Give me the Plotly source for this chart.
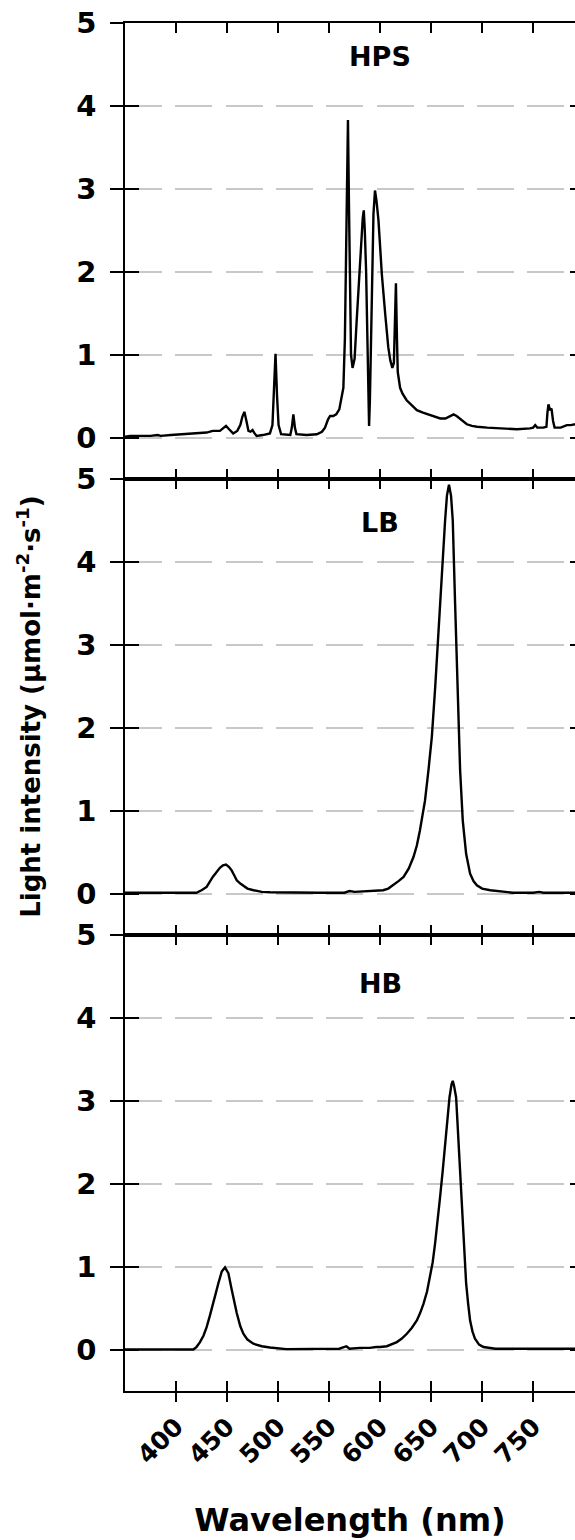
import plotly.graph_objects as go

# ---------------- data ----------------
hps_wl = [350, 355, 365, 375, 382, 385, 395, 410, 420, 430, 436, 443, 446, 449, 452, 456, 460, 463, 465, 467,
          469, 471, 473, 475, 477, 479, 485, 492, 494.5, 496, 497.5, 499, 500.5, 503, 508, 512, 513.5, 515,
          516.5, 518, 528, 538, 543, 546, 549, 551, 554, 557, 560, 562, 564, 565.5, 566.5, 567.5, 568.5,
          569.5, 570.5, 571.5, 573, 575, 577, 579, 581, 583, 584, 585, 586.3, 587.6, 588.5, 589.2, 590,
          590.9, 591.8, 592.5, 593.5, 595, 596.5, 598.4, 600, 601.7, 605, 608, 610, 612, 613.5, 614.5,
          615.5, 616.5, 617.3, 619.6, 622, 626, 630, 636, 642, 649, 655, 659, 664, 668, 672, 675, 678,
          682, 685, 690, 695, 705, 718, 734, 747, 750, 752, 754, 760, 763, 764, 765, 766.5, 768, 769.5,
          771, 777, 783, 787, 791]
hps_val = [0.01, 0.02, 0.02, 0.02, 0.03, 0.02, 0.03, 0.04, 0.05, 0.06, 0.08, 0.08, 0.11, 0.14, 0.10, 0.05,
           0.08, 0.15, 0.25, 0.31, 0.20, 0.08, 0.07, 0.09, 0.05, 0.02, 0.03, 0.05, 0.15, 0.50, 1.01, 0.50,
           0.15, 0.04, 0.03, 0.03, 0.12, 0.28, 0.12, 0.04, 0.03, 0.04, 0.07, 0.12, 0.22, 0.26, 0.26, 0.28,
           0.34, 0.45, 0.60, 1.20, 2.20, 3.20, 3.83, 2.80, 1.60, 1.00, 0.84, 0.95, 1.40, 1.85, 2.30, 2.65,
           2.74, 2.50, 2.00, 1.00, 0.40, 0.14, 0.45, 1.00, 1.60, 2.20, 2.70, 2.98, 2.85, 2.62, 2.30, 1.97,
           1.49, 1.09, 0.93, 0.84, 0.90, 1.30, 1.86, 1.20, 0.79, 0.60, 0.53, 0.45, 0.40, 0.33, 0.30, 0.27,
           0.25, 0.23, 0.23, 0.26, 0.28, 0.26, 0.23, 0.19, 0.16, 0.14, 0.13, 0.12, 0.11, 0.10, 0.11, 0.12,
           0.15, 0.12, 0.12, 0.13, 0.30, 0.40, 0.33, 0.35, 0.20, 0.12, 0.12, 0.15, 0.15, 0.16]

lb_wl = [350, 380, 410, 420, 425, 430, 436, 440, 443, 446, 449, 452, 454.5, 457, 459.5, 463, 466, 470, 476,
         484, 492, 510, 540, 565, 570, 575, 590, 597, 603, 608, 613, 618, 623, 628, 632.7, 636, 639, 644,
         647.4, 650.7, 654, 657.2, 660.5, 663.7, 665.5, 667.5, 669.5, 671.2, 673.5, 675.8, 678.4, 681,
         684.3, 688.2, 691.5, 694.8, 700, 708, 720, 730, 750, 756, 760, 791]
lb_val = [0.01, 0.01, 0.01, 0.01, 0.04, 0.08, 0.20, 0.27, 0.31, 0.34, 0.35, 0.32, 0.28, 0.22, 0.16, 0.12,
          0.09, 0.06, 0.04, 0.02, 0.015, 0.01, 0.01, 0.01, 0.03, 0.02, 0.03, 0.04, 0.04, 0.06, 0.10, 0.15,
          0.20, 0.30, 0.44, 0.58, 0.76, 1.12, 1.49, 1.89, 2.49, 3.18, 3.90, 4.50, 4.80, 4.93, 4.80, 4.50,
          3.50, 2.49, 1.49, 0.88, 0.48, 0.24, 0.15, 0.10, 0.06, 0.04, 0.02, 0.01, 0.01, 0.02, 0.01, 0.01]

hb_wl = [350, 380, 417, 420, 423.5, 427, 430, 433, 436.6, 439, 441.5, 444.8, 448, 451.3, 454.6, 457, 459.5,
         463, 466, 470, 475.8, 484, 492, 508, 540, 560, 567, 570, 580, 590, 596, 600, 606.6, 611, 616.4,
         621, 626.2, 631, 636, 639.2, 642.5, 646, 649, 651.5, 653.9, 656.5, 658.8, 661.3, 663.7, 666, 668,
         670, 671.2, 672.5, 674.5, 676, 677.8, 679.5, 681, 682.7, 684.3, 686.3, 688.2, 690.5, 693, 697,
         701.3, 713, 791]
hb_val = [0.0, 0.0, 0.0, 0.03, 0.09, 0.17, 0.27, 0.40, 0.55, 0.68, 0.80, 0.94, 0.99, 0.92, 0.72, 0.57, 0.44,
          0.28, 0.19, 0.12, 0.07, 0.04, 0.025, 0.005, 0.005, 0.01, 0.04, 0.01, 0.02, 0.02, 0.03, 0.03, 0.04,
          0.06, 0.09, 0.13, 0.19, 0.26, 0.35, 0.44, 0.55, 0.70, 0.87, 1.05, 1.28, 1.55, 1.84, 2.15, 2.48,
          2.80, 3.04, 3.20, 3.24, 3.18, 3.04, 2.70, 2.28, 1.85, 1.48, 1.10, 0.80, 0.55, 0.35, 0.22, 0.13,
          0.06, 0.03, 0.01, 0.01]

panel_names = ["HPS", "LB", "HB"]
panel_label_y = [4.6, 4.48, 4.42]
x_ticks = [400, 450, 500, 550, 600, 650, 700, 750]
y_ticks = [0, 1, 2, 3, 4, 5]
x_range = [350, 791]
y_range = [-0.5, 5]
series = [(hps_wl, hps_val), (lb_wl, lb_val), (hb_wl, hb_val)]

# ---------------- figure ----------------
FONT = "DejaVu Sans"
fig = go.Figure()
domains = [[2 / 3, 1.0], [1 / 3, 2 / 3], [0.0, 1 / 3]]

for i, (wl, val) in enumerate(series):
    n = i + 1
    xs = "x" if n == 1 else f"x{n}"
    ys = "y" if n == 1 else f"y{n}"
    fig.add_trace(go.Scatter(x=wl, y=val, mode="lines", xaxis=xs, yaxis=ys,
                             line=dict(color="black", width=2.4), showlegend=False,
                             hoverinfo="skip"))
    # dummy traces for overlay axes (inner y ticks, right y ticks)
    for k in (3, 6):
        fig.add_trace(go.Scatter(x=[None], y=[None], xaxis=xs, yaxis=f"y{n + k}",
                                 showlegend=False, hoverinfo="skip"))

    ax_key = "xaxis" if n == 1 else f"xaxis{n}"
    ay_key = "yaxis" if n == 1 else f"yaxis{n}"
    fig.layout[ax_key] = dict(
        range=x_range, anchor=ys, domain=[0, 1], showline=True, linecolor="black", linewidth=1.5,
        ticks="inside", ticklen=10, tickwidth=1.5, tickcolor="black", tickvals=x_ticks,
        mirror="ticks", showticklabels=False, showgrid=False, zeroline=False,
    )
    fig.layout[ay_key] = dict(
        range=y_range, anchor=xs, domain=domains[i], showline=True, linecolor="black", linewidth=1.5,
        ticks="outside", ticklen=13, tickwidth=1.5, tickcolor="black", tickvals=y_ticks,
        showgrid=True, gridcolor="#c8c8c8", gridwidth=1.5, griddash="37px,13.3px",
        zeroline=False, ticklabelstandoff=8,
        tickfont=dict(family=FONT, size=29, color="black", weight="bold"),
    )
    # inner y ticks (so ticks cross the axis line)
    fig.layout[f"yaxis{n + 3}"] = dict(
        range=y_range, anchor=xs, overlaying=ys, side="left", showline=False,
        ticks="inside", ticklen=14, tickwidth=1.5, tickcolor="black", tickvals=y_ticks,
        showticklabels=False, showgrid=False, zeroline=False,
    )
    # short ticks at the right edge
    fig.layout[f"yaxis{n + 6}"] = dict(
        range=y_range, anchor=xs, overlaying=ys, side="right", showline=False,
        ticks="inside", ticklen=5, tickwidth=1.5, tickcolor="black", tickvals=y_ticks,
        showticklabels=False, showgrid=False, zeroline=False,
    )
    fig.add_annotation(x=600, y=panel_label_y[i], xref=xs, yref=ys, text=panel_names[i],
                       showarrow=False, font=dict(family=FONT, size=27, color="black", weight="bold"))

# bottom outer ticks with labels
fig.add_trace(go.Scatter(x=[None], y=[None], xaxis="x4", yaxis="y3", showlegend=False, hoverinfo="skip"))
fig.layout["xaxis4"] = dict(
    range=x_range, anchor="y3", overlaying="x3", side="bottom", showline=False,
    ticks="outside", ticklen=10, tickwidth=1.5, tickcolor="black", tickvals=x_ticks,
    tickangle=-45, showgrid=False, zeroline=False,
    tickfont=dict(family=FONT, size=25, color="black", weight="bold"),
    title=dict(text="Wavelength (nm)", standoff=40,
               font=dict(family=FONT, size=32, color="black", weight="bold")),
)

fig.add_annotation(x=-0.256, y=0.5, xref="paper", yref="paper", textangle=-90,
                   text="Light intensity (μmol·m<sup>-2</sup>·s<sup>-1</sup>)", showarrow=False,
                   font=dict(family=FONT, size=26, color="black", weight="bold"))

fig.update_layout(width=575, height=1540, margin=dict(l=125, r=0, t=23, b=149, autoexpand=False),
                  plot_bgcolor="white", paper_bgcolor="white", showlegend=False)

fig.write_html("out.html", config={"displayModeBar": False},
               post_script="document.body.style.margin='0';document.body.style.padding='0';"
                           "document.body.style.overflow='hidden';"
                           "document.documentElement.style.overflow='hidden';")
